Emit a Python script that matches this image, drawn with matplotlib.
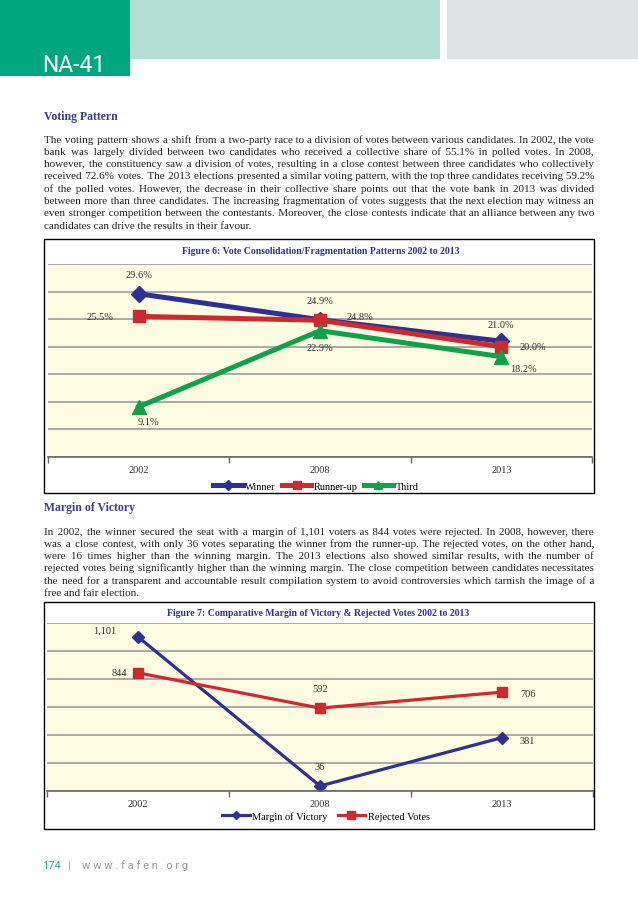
import matplotlib
matplotlib.use('Agg')
import matplotlib.pyplot as plt
from matplotlib.patches import Rectangle

W, H = 638, 903

years = ['2002', '2008', '2013']
winner = [29.6, 24.9, 21.0]
runner_up = [25.5, 24.8, 20.0]
third = [9.1, 22.9, 18.2]
margin = [1101, 36, 381]
rejected = [844, 592, 706]

para1 = [
    "The voting pattern shows a shift from a two-party race to a division of votes between various candidates. In 2002, the vote",
    "bank was largely divided between two candidates who received a collective share of 55.1% in polled votes. In 2008,",
    "however, the constituency saw a division of votes, resulting in a close contest between three candidates who collectively",
    "received 72.6% votes. The 2013 elections presented a similar voting pattern, with the top three candidates receiving 59.2%",
    "of the polled votes. However, the decrease in their collective share points out that the vote bank in 2013 was divided",
    "between more than three candidates. The increasing fragmentation of votes suggests that the next election may witness an",
    "even stronger competition between the contestants. Moreover, the close contests indicate that an alliance between any two",
    "candidates can drive the results in their favour.",
]
para2 = [
    "In 2002, the winner secured the seat with a margin of 1,101 voters as 844 votes were rejected. In 2008, however, there",
    "was a close contest, with only 36 votes separating the winner from the runner-up. The rejected votes, on the other hand,",
    "were 16 times higher than the winning margin. The 2013 elections also showed similar results, with the number of",
    "rejected votes being significantly higher than the winning margin. The close competition between candidates necessitates",
    "the need for a transparent and accountable result compilation system to avoid controversies which tarnish the image of a",
    "free and fair election.",
]

SERIF = ['Liberation Serif', 'DejaVu Serif']
BLUE = '#2e3192'
RED = '#cc2a2f'
GREEN = '#0fa24a'
BG = '#fdfbe1'
HEAD = '#3b3b8c'
HAIR = '\u200a'

fig = plt.figure(figsize=(W / 100, H / 100), dpi=100)


def fx(x):
    return x / W


def fy(y):
    return 1 - y / H


def box(x0, y0, x1, y1, **kw):
    fig.patches.append(Rectangle((fx(x0), fy(y1)), (x1 - x0) / W, (y1 - y0) / H,
                                 transform=fig.transFigure, **kw))


# header blocks
box(0, 0, 130, 77, color='#00a67e', lw=0)
box(130, 0, 440, 60, color='#b3dfd3', lw=0)
box(447, 0, 638, 60, color='#e1e2e3', lw=0)
fig.text(fx(42), fy(65), 'NA-41', color='white', fontsize=16.5, family='Roboto', va='center')

renderer = fig.canvas.get_renderer()


def justify(lines, x0, x1, y0, dy, size=8):
    # each line is one text; word gaps padded with hair spaces to fill the width
    for i, line in enumerate(lines):
        t = fig.text(fx(x0), fy(y0 + i * dy), line, fontsize=size, family=SERIF,
                     color='#222', va='center')
        if i == len(lines) - 1:
            continue
        words = line.split()
        n = len(words) - 1
        w0 = t.get_window_extent(renderer).width
        t.set_text((' ' + HAIR).join(words))
        hs = (t.get_window_extent(renderer).width - w0) / n
        k = max(0, round((x1 - x0 - w0) / hs))
        gaps = [' ' + HAIR * (k // n + (1 if j < k % n else 0)) for j in range(n)]
        t.set_text(''.join(w + g for w, g in zip(words, gaps)) + words[-1])


fig.text(fx(44), fy(117), 'Voting Pattern', fontsize=8.5, fontweight='bold', color=HEAD, family=SERIF, va='center')
justify(para1, 44, 594, 140, 12.3)
fig.text(fx(44), fy(508), 'Margin of Victory', fontsize=8.5, fontweight='bold', color=HEAD, family=SERIF, va='center')
justify(para2, 44, 594, 532, 12.2)


def style_axes(ax, ylim, step):
    ax.set_facecolor(BG)
    ax.set_xlim(-0.5, 2.5)
    ax.set_ylim(*ylim)
    ax.set_yticks(range(ylim[0], ylim[1] + 1, step))
    ax.yaxis.grid(True, color='#a9a9a9', lw=1.4)
    ax.set_axisbelow(True)
    ax.tick_params(axis='y', left=False, labelleft=False)
    for s in ['left', 'right', 'top']:
        ax.spines[s].set_visible(False)
    ax.spines['bottom'].set_color('#666666')
    ax.spines['bottom'].set_linewidth(1.2)
    ax.set_xticks(range(3))
    ax.set_xticklabels(years, family=SERIF, fontsize=7.5, color='#333')
    ax.tick_params(axis='x', length=0, pad=6)
    ax.set_xticks([-0.5, 0.5, 1.5, 2.5], minor=True)
    ax.tick_params(axis='x', which='minor', length=4, color='#666666', width=1)


def label(ax, text, xy, dx, dy, ha='center'):
    ax.annotate(text, xy, xytext=(dx * 0.72, -dy * 0.72), textcoords='offset points',
                ha=ha, va='center', family=SERIF, fontsize=7.5, color='#333')


# Figure 6
box(44, 240, 594, 494, fill=False, ec='black', lw=1)
fig.text(fx(321), fy(252), 'Figure 6: Vote Consolidation/Fragmentation Patterns 2002 to 2013',
         fontsize=7, fontweight='bold', color=BLUE, family=SERIF, ha='center', va='center')
ax1 = fig.add_axes([fx(48), fy(458), 544 / W, 193 / H])
style_axes(ax1, (0, 35), 5)
x = range(3)
l1, = ax1.plot(x, winner, color=BLUE, lw=3.6, marker='D', ms=8)
l2, = ax1.plot(x, runner_up, color=RED, lw=3.6, marker='s', ms=9)
l3, = ax1.plot(x, third, color=GREEN, lw=3.6, marker='^', ms=10)

label(ax1, f'{winner[0]:.1f}%', (0, winner[0]), 0, -19)
label(ax1, f'{winner[1]:.1f}%', (1, winner[1]), 0, -19)
label(ax1, f'{winner[2]:.1f}%', (2, winner[2]), 0, -17)
label(ax1, f'{runner_up[0]:.1f}%', (0, runner_up[0]), -25, 0, ha='right')
label(ax1, f'{runner_up[1]:.1f}%', (1, runner_up[1]), 27, -4, ha='left')
label(ax1, f'{runner_up[2]:.1f}%', (2, runner_up[2]), 18, 0, ha='left')
label(ax1, f'{third[0]:.1f}%', (0, third[0]), 10, 15)
label(ax1, f'{third[1]:.1f}%', (1, third[1]), 0, 17)
label(ax1, f'{third[2]:.1f}%', (2, third[2]), 9, 12, ha='left')

fig.legend([l1, l2, l3], ['Winner', 'Runner-up', 'Third'], loc='center',
           bbox_to_anchor=(fx(316), fy(487)), ncol=3, frameon=False, handlelength=2.8,
           handletextpad=0.25, columnspacing=0.6, borderpad=0, markerscale=0.6,
           prop={'family': SERIF, 'size': 7.5})

# Figure 7
box(44, 603, 594, 830, fill=False, ec='black', lw=1)
fig.text(fx(318), fy(614), 'Figure 7: Comparative Margin of Victory & Rejected Votes 2002 to 2013',
         fontsize=7, fontweight='bold', color=BLUE, family=SERIF, ha='center', va='center')
ax2 = fig.add_axes([fx(47), fy(792), 546 / W, 168 / H])
style_axes(ax2, (0, 1200), 200)
m1, = ax2.plot(x, margin, color=BLUE, lw=2.3, marker='D', ms=6)
m2, = ax2.plot(x, rejected, color=RED, lw=2.3, marker='s', ms=7.5)

label(ax2, f'{margin[0]:,}', (0, margin[0]), -22, -7, ha='right')
label(ax2, f'{margin[1]:,}', (1, margin[1]), 0, -19)
label(ax2, f'{margin[2]:,}', (2, margin[2]), 18, 3, ha='left')
label(ax2, f'{rejected[0]:,}', (0, rejected[0]), -11, 0, ha='right')
label(ax2, f'{rejected[1]:,}', (1, rejected[1]), 0, -20)
label(ax2, f'{rejected[2]:,}', (2, rejected[2]), 18, 1, ha='left')

fig.legend([m1, m2], ['Margin of Victory', 'Rejected Votes'], loc='center',
           bbox_to_anchor=(fx(326), fy(817)), ncol=2, frameon=False, handlelength=2.6,
           handletextpad=0.25, columnspacing=1.0, borderpad=0, markerscale=0.75,
           prop={'family': SERIF, 'size': 7.5})

# footer
fig.text(fx(42), fy(866), '174', color='#2fa58a', fontsize=8, family='Roboto', va='center')
fig.text(fx(68), fy(866), '|', color='#999999', fontsize=8, family='Roboto', va='center')
fig.text(fx(82), fy(866), 'w w w . f a f e n . o r g', color='#999999', fontsize=8, family='Roboto', va='center')

fig.savefig('out.png', dpi=100)
